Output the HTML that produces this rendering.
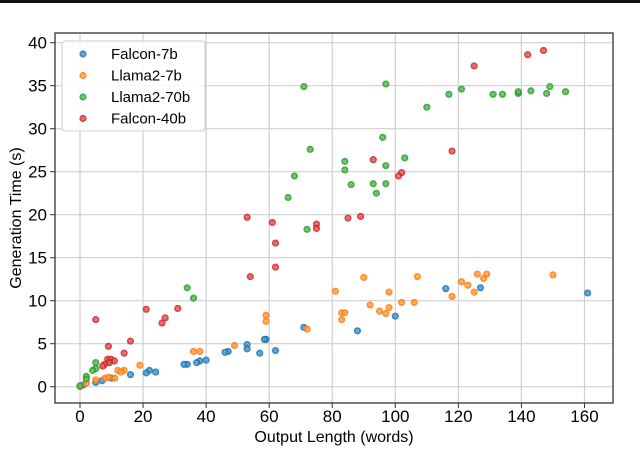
<!DOCTYPE html>
<html><head><meta charset="utf-8"><style>
body{margin:0;background:#fff;}
svg text{font-family:"Liberation Sans","DejaVu Sans",sans-serif;fill:#000;}
</style></head><body>
<svg id="chart" width="640" height="446" xmlns="http://www.w3.org/2000/svg">
<rect x="0" y="0" width="640" height="3" fill="#111"/>
<g id="grid"></g><g id="ticks"></g><g id="marks"></g>
<rect x="55" y="33" width="558" height="370" fill="none" stroke="#333" stroke-width="1.3"/>
<text x="334" y="442" font-size="16" text-anchor="middle">Output Length (words)</text>
<text transform="translate(21,218) rotate(-90)" font-size="16" text-anchor="middle">Generation Time (s)</text>
<g id="legend">
<rect x="62" y="41" width="143" height="90" rx="3" fill="#fff" fill-opacity="0.85" stroke="#ccc"/>
</g>
</svg>
<script>
const seriesNames=["Falcon-7b","Llama2-7b","Llama2-70b","Falcon-40b"];
const colors=["#1f77b4","#ff7f0e","#2ca02c","#d62728"];
const xTicks=[0,20,40,60,80,100,120,140,160];
const yTicks=[0,5,10,15,20,25,30,35,40];
const falcon7bX=[161,127,116,100,88,71,59,58.5,53,53,57,62,47,46,40,38,37,34,33,24,22,21,16,10,7,5,1];
const falcon7bY=[10.9,11.5,11.4,8.2,6.5,6.9,5.5,5.5,4.9,4.4,3.9,4.2,4.1,4.0,3.1,3.0,2.8,2.6,2.6,1.7,1.9,1.6,1.4,1.0,0.7,0.5,0.2];
const llama7bX=[150,129,126,128,121,123,125,118,107,90,81,98,102,106,92,98,95,97,83,84,83,72,59,59,49,36,38,19,12,14,13,5,8,11,9,2,0];
const llama7bY=[13.0,13.1,13.1,12.6,12.2,11.8,11.0,10.5,12.8,12.7,11.1,11.0,9.8,9.8,9.5,9.2,8.8,8.5,8.6,8.6,7.8,6.7,8.3,7.6,4.8,4.1,4.1,2.5,1.9,1.9,1.7,0.8,1.0,1.0,1.1,0.4,0.0];
const llama70bX=[71,97,110,117,121,131,134,139,139,143,148,149,154,96,73,103,84,97,84,68,86,93,97,94,66,72,34,36,5,5,4,2,2,0,9.5];
const llama70bY=[34.9,35.2,32.5,34,34.6,34,34,34.1,34.3,34.4,34.1,34.9,34.3,29,27.6,26.6,26.2,25.7,25.2,24.5,23.5,23.6,23.6,22.5,22,18.3,11.5,10.3,2.8,2.1,1.9,1.2,0.9,0.1,3.0];
const falcon40bX=[147,142,125,118,93,102,101,53,61,62,85,89,75,75,62,54,21,31,27,26,5,16,9,14,8.8,9.8,10.9,7.8,7.2,9.3];
const falcon40bY=[39.1,38.6,37.3,27.4,26.4,24.9,24.5,19.7,19.1,16.7,19.6,19.8,18.9,18.4,13.9,12.8,9.0,9.1,8.0,7.4,7.8,5.3,4.7,3.9,3.2,3.2,3.0,2.6,2.4,2.8];
const seriesX=[falcon7bX,llama7bX,llama70bX,falcon40bX];
const seriesY=[falcon7bY,llama7bY,llama70bY,falcon40bY];
const NS="http://www.w3.org/2000/svg";
const xs=v=>80+v*3.153;
const ys=v=>386.7-v*8.6;
function mk(tag,attrs,parent){const e=document.createElementNS(NS,tag);for(const k in attrs)e.setAttribute(k,attrs[k]);parent.appendChild(e);return e;}
const grid=document.getElementById('grid'),ticks=document.getElementById('ticks'),marks=document.getElementById('marks'),legend=document.getElementById('legend');
xTicks.forEach(t=>{
 const l=mk('line',{x1:xs(t),x2:xs(t),y1:33,y2:403,stroke:'#d0d0d0','stroke-width':1.2},grid);
 
 
 const tk=mk('line',{x1:xs(t),x2:xs(t),y1:403,y2:408,stroke:'#333'},ticks);
 
 
 const tx=mk('text',{x:xs(t),y:422,'font-size':17,'text-anchor':'middle'},ticks);
 tx.textContent=t;
 
 
});
yTicks.forEach(t=>{
 const l=mk('line',{x1:55,x2:613,y1:ys(t),y2:ys(t),stroke:'#d0d0d0','stroke-width':1.2},grid);
 
 
 const tk=mk('line',{x1:50,x2:55,y1:ys(t),y2:ys(t),stroke:'#333'},ticks);
 
 
 const tx=mk('text',{x:47,y:ys(t)+6,'font-size':17,'text-anchor':'end'},ticks);
 tx.textContent=t;
 
 
});
function marker(parent,x,y,c){
 const g=mk('g',{},parent);
 mk('circle',{cx:x,cy:y,r:3.6,fill:c,'fill-opacity':0.85},g);
 mk('circle',{cx:x,cy:y,r:1.2,fill:'none',stroke:'#fff','stroke-width':0.6,'stroke-opacity':0.55},g);
 return g;
}
seriesX.forEach((arr,s)=>{
 arr.forEach((v,i)=>{
  const g=marker(marks,xs(v),ys(seriesY[s][i]),colors[s]);
  
  
 });
 const ly=54+s*21.5;
 const lm=marker(legend,83,ly,colors[s]);
 
 
 const lt=mk('text',{x:111,y:ly+5,'font-size':15},legend);
 lt.textContent=seriesNames[s];
 
 
});
</script>
</body></html>
